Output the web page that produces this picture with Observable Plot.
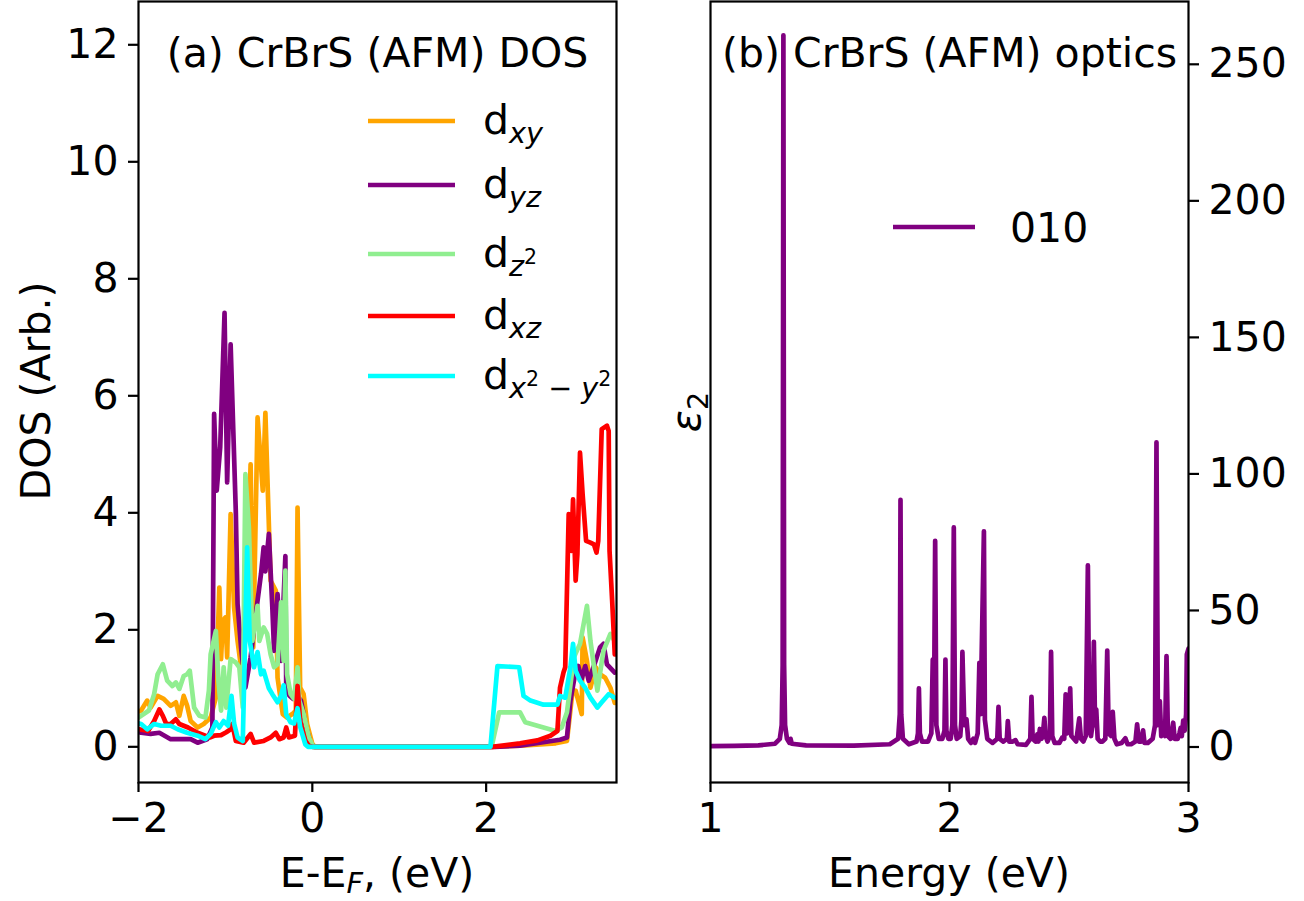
<!DOCTYPE html>
<html><head><meta charset="utf-8">
<script src="https://cdn.jsdelivr.net/npm/d3@7"></script>
<script src="https://cdn.jsdelivr.net/npm/@observablehq/plot@0.6"></script>
<style>
html,body{margin:0;padding:0;background:#fff;}
#wrap{position:relative;width:1304px;height:901px;font-family:"DejaVu Sans";overflow:hidden;}
#a,#b{position:absolute;top:0;}
#a{left:0px} #b{left:652px}
</style></head><body><div id="wrap"><div id="a"></div><div id="b"></div></div>
<script>
// ---------- Data: panel (a) DOS, [E - E_F (eV), DOS] ----------
const dxy = [[-2.0,0.6],[-1.97,0.62],[-1.9,0.79],[-1.86,0.67],[-1.78,0.87],[-1.71,0.82],[-1.63,0.70],[-1.57,0.76],[-1.53,0.53],[-1.48,0.87],[-1.44,0.70],[-1.40,0.44],[-1.32,0.33],[-1.25,0.39],[-1.17,0.50],[-1.11,0.84],[-1.07,2.72],[-1.05,1.5],[-1.03,2.15],[-1.00,2.21],[-0.98,1.53],[-0.94,3.98],[-0.90,2.38],[-0.86,1.81],[-0.80,1.13],[-0.77,1.98],[-0.71,4.83],[-0.68,1.70],[-0.63,5.63],[-0.57,4.38],[-0.54,5.71],[-0.48,2.84],[-0.42,2.67],[-0.40,1.18],[-0.34,0.56],[-0.29,0.50],[-0.23,0.56],[-0.19,0.62],[-0.17,4.09],[-0.14,1.01],[-0.10,0.90],[-0.06,0.39],[0.0,0.05],[0.03,0],[2.05,0],[2.4,0.02],[2.8,0.06],[2.93,0.1],[2.99,0.90],[3.03,0.96],[3.06,0.79],[3.10,0.56],[3.11,1.87],[3.16,1.47],[3.20,1.01],[3.26,1.36],[3.31,1.24],[3.37,1.18],[3.43,1.01],[3.48,0.75]];
const dyz = [[-2.0,0.26],[-1.97,0.24],[-1.86,0.22],[-1.76,0.24],[-1.63,0.13],[-1.40,0.13],[-1.32,0.07],[-1.21,0.13],[-1.15,0.33],[-1.13,5.69],[-1.10,4.38],[-1.06,5.12],[-1.01,7.42],[-0.98,4.52],[-0.94,6.88],[-0.88,4.0],[-0.86,2.44],[-0.82,1.70],[-0.77,1.01],[-0.71,1.53],[-0.65,2.27],[-0.59,2.96],[-0.56,3.41],[-0.54,3.0],[-0.50,3.64],[-0.46,2.38],[-0.44,1.64],[-0.40,2.61],[-0.36,1.47],[-0.31,3.26],[-0.30,0.96],[-0.26,0.87],[-0.22,0.82],[-0.17,0.87],[-0.13,0.79],[-0.08,0.39],[-0.02,0.05],[0.02,0],[2.1,0],[2.39,0.02],[2.85,0.12],[2.93,0.16],[2.97,0.79],[3.03,1.30],[3.06,1.38],[3.10,1.16],[3.14,1.38],[3.18,1.13],[3.26,1.47],[3.31,1.70],[3.35,1.76],[3.39,1.41],[3.48,1.27]];
const dz2 = [[-2.0,0.5],[-1.97,0.53],[-1.88,0.62],[-1.82,0.90],[-1.78,1.24],[-1.72,1.41],[-1.67,1.13],[-1.61,1.04],[-1.57,1.10],[-1.53,0.99],[-1.48,1.21],[-1.44,1.24],[-1.41,1.30],[-1.36,0.67],[-1.30,0.53],[-1.23,0.50],[-1.19,0.96],[-1.17,1.58],[-1.11,1.98],[-1.08,1.13],[-1.05,0.62],[-1.02,1.36],[-0.99,0.67],[-0.94,1.50],[-0.88,1.44],[-0.84,1.36],[-0.80,0.67],[-0.77,4.66],[-0.73,3.75],[-0.69,1.81],[-0.63,2.41],[-0.61,1.81],[-0.56,2.04],[-0.52,1.93],[-0.48,1.58],[-0.44,1.36],[-0.40,1.41],[-0.36,2.47],[-0.33,1.47],[-0.31,3.01],[-0.29,1.24],[-0.25,0.90],[-0.21,0.82],[-0.17,1.36],[-0.15,0.79],[-0.10,0.56],[-0.04,0.16],[0.01,0],[2.05,0],[2.07,0.05],[2.15,0.59],[2.39,0.59],[2.45,0.42],[2.80,0.27],[2.87,0.33],[2.93,0.59],[3.01,1.53],[3.08,1.76],[3.16,2.41],[3.20,1.81],[3.28,0.96],[3.35,1.64],[3.43,1.93],[3.48,1.81]];
const dxz = [[-2.0,0.3],[-1.99,0.30],[-1.89,0.27],[-1.82,0.44],[-1.76,0.64],[-1.72,0.53],[-1.68,0.39],[-1.63,0.39],[-1.57,0.47],[-1.53,0.39],[-1.43,0.33],[-1.32,0.24],[-1.18,0.16],[-1.13,0.19],[-1.05,0.2],[-0.99,0.25],[-0.94,0.30],[-0.92,0.39],[-0.88,0.10],[-0.79,0.07],[-0.71,0.22],[-0.67,0.07],[-0.56,0.10],[-0.48,0.16],[-0.42,0.24],[-0.38,0.13],[-0.33,0.16],[-0.30,0.33],[-0.27,0.16],[-0.20,0.19],[-0.17,1.04],[-0.14,0.44],[-0.11,0.27],[-0.08,0.10],[-0.04,0.02],[0.0,0],[2.07,0],[2.39,0.06],[2.59,0.11],[2.74,0.19],[2.82,0.27],[2.85,1.01],[2.89,1.27],[2.91,1.36],[2.95,3.98],[2.98,3.35],[3.00,4.23],[3.03,2.84],[3.05,3.29],[3.08,5.03],[3.11,4.32],[3.15,3.52],[3.20,3.49],[3.24,3.46],[3.27,3.32],[3.29,3.52],[3.33,5.43],[3.39,5.49],[3.41,5.40],[3.42,3.35],[3.45,2.50],[3.48,1.58]];
const dx2y2 = [[-2.0,0.4],[-1.97,0.39],[-1.90,0.30],[-1.82,0.39],[-1.74,0.36],[-1.63,0.36],[-1.55,0.30],[-1.44,0.24],[-1.32,0.19],[-1.23,0.13],[-1.17,0.22],[-1.11,0.42],[-1.07,0.33],[-1.02,0.44],[-0.97,0.36],[-0.93,0.87],[-0.90,0.40],[-0.86,0.16],[-0.80,0.10],[-0.78,1.4],[-0.75,3.41],[-0.72,1.81],[-0.67,1.36],[-0.63,1.62],[-0.59,1.24],[-0.56,1.30],[-0.50,1.0],[-0.46,0.9],[-0.40,0.76],[-0.36,0.87],[-0.33,1.05],[-0.30,0.55],[-0.25,0.42],[-0.21,0.40],[-0.17,0.66],[-0.14,0.34],[-0.08,0.04],[-0.05,0],[2.05,0],[2.13,1.38],[2.38,1.36],[2.43,0.87],[2.51,0.79],[2.66,0.72],[2.82,0.72],[2.85,0.87],[2.91,0.84],[2.97,1.36],[3.00,1.76],[3.03,1.30],[3.08,1.13],[3.14,1.01],[3.20,0.84],[3.28,0.67],[3.33,0.76],[3.41,0.90],[3.48,0.84]];

const dosSeries = [
  {key: "dxy", data: dxy, color: "orange"},
  {key: "dyz", data: dyz, color: "purple"},
  {key: "dz2", data: dz2, color: "lightgreen"},
  {key: "dxz", data: dxz, color: "red"},
  {key: "dx2y2", data: dx2y2, color: "cyan"}
];
const dosXTicks = [-2, 0, 2];
const dosYTicks = [0, 2, 4, 6, 8, 10, 12];

// ---------- Data: panel (b) optics, [Energy (eV), eps2] ----------
const eps2 = [[1.0,0.3],[1.1,0.4],[1.2,0.6],[1.27,1.2],[1.29,3],[1.298,8],[1.302,30],[1.305,260.6],[1.308,30],[1.312,8],[1.32,3],[1.33,1.5],[1.335,3],[1.34,1.2],[1.4,0.6],[1.6,0.5],[1.75,1],[1.785,3],[1.792,12],[1.795,90.5],[1.798,12],[1.805,3],[1.83,1],[1.862,2],[1.868,5],[1.872,21.5],[1.876,5],[1.885,2],[1.91,2],[1.924,5],[1.930,32],[1.935,10],[1.940,75.5],[1.945,8],[1.955,3],[1.97,3],[1.979,6],[1.983,32],[1.987,6],[1.995,3],[2.005,3],[2.012,8],[2.018,80.4],[2.023,8],[2.03,3],[2.045,4],[2.050,10],[2.054,34.8],[2.062,8],[2.071,10.2],[2.078,3],[2.09,1.5],[2.1,3],[2.107,1.5],[2.118,5],[2.125,30.8],[2.13,12],[2.144,79],[2.148,10],[2.158,3],[2.18,1.5],[2.2,3],[2.205,14.7],[2.21,3],[2.225,2],[2.24,3],[2.244,9.5],[2.25,2],[2.265,2],[2.276,2.5],[2.285,1],[2.32,0.8],[2.338,3],[2.343,18.4],[2.348,3],[2.36,2],[2.367,4.6],[2.372,2],[2.378,6.6],[2.385,3],[2.39,4],[2.397,10.7],[2.402,4],[2.41,2],[2.42,4],[2.425,34.8],[2.43,4],[2.44,1.5],[2.46,1.5],[2.471,3.4],[2.48,3],[2.486,19.3],[2.492,5],[2.50,9.5],[2.505,21.5],[2.51,4],[2.52,3],[2.53,2],[2.543,10.5],[2.55,3],[2.56,2],[2.57,4],[2.579,66.5],[2.585,6],[2.592,4],[2.598,8],[2.604,38.5],[2.609,8],[2.614,13.8],[2.62,3],[2.63,2],[2.64,2],[2.652,3],[2.66,35.3],[2.666,5],[2.676,4],[2.683,12.9],[2.69,3],[2.70,1],[2.72,1.5],[2.736,3.2],[2.745,1],[2.76,1],[2.778,2],[2.785,8.3],[2.792,2],[2.802,2],[2.81,6.1],[2.816,1.5],[2.83,1.5],[2.85,3],[2.86,8],[2.866,111.6],[2.872,8],[2.88,16.8],[2.886,4],[2.895,5],[2.902,4],[2.908,33.3],[2.914,4],[2.925,3],[2.936,8.9],[2.942,3],[2.955,3],[2.962,5],[2.967,7],[2.972,4],[2.978,9.7],[2.984,6],[2.99,12],[2.993,33.9],[3.0,36]];
const optXTicks = [1, 2, 3];
const optYTicks = [0, 50, 100, 150, 200, 250];

// ---------- Rendering ----------
const FS = 41;
const FONT = "DejaVu Sans";
const LW = 4.7;

function rich(sel, x, y, segs, anchor, rotate) {
  const t = sel.append("text")
    .attr("text-anchor", anchor || "start")
    .attr("font-family", FONT).attr("font-size", FS).attr("fill", "black")
    .attr("transform", `translate(${x},${y}) rotate(${rotate || 0})`);
  let shift = 0;
  for (const s of segs) {
    const ts = t.append("tspan").text(s.t);
    const target = s.dy || 0;
    if (target !== shift) { ts.attr("dy", target - shift); shift = target; }
    if (s.it) ts.attr("font-style", "italic");
    if (s.sz) ts.attr("font-size", s.sz);
  }
  return t;
}

const axisStyle = {tickSize: 10, tickPadding: 10, strokeWidth: 2.2, fontSize: FS, fontFamily: FONT, label: null, tickFormat: "d"};

const left = Plot.plot({
  width: 652, height: 901,
  marginLeft: 138, marginRight: 36, marginTop: 1, marginBottom: 119,
  style: {fontFamily: FONT, fontSize: FS + "px", background: "white", color: "black", overflow: "visible"},
  x: {domain: [-2, 3.5]},
  y: {domain: [-0.61, 12.74]},
  marks: [
    ...dosSeries.map(s => Plot.line(s.data, {x: d => d[0], y: d => d[1], stroke: s.color, strokeWidth: LW, clip: true})),
    Plot.frame({stroke: "black", strokeWidth: 2.2}),
    Plot.axisX({...axisStyle, ticks: dosXTicks}),
    Plot.axisY({...axisStyle, ticks: dosYTicks}),
    Plot.text(["(a) CrBrS (AFM) DOS"], {frameAnchor: "top", dy: 36, fontSize: FS, fontFamily: FONT, fill: "black"})
  ]
});
document.getElementById("a").appendChild(left);

const right = Plot.plot({
  width: 652, height: 901,
  marginLeft: 58, marginRight: 116, marginTop: 1, marginBottom: 119,
  style: {fontFamily: FONT, fontSize: FS + "px", background: "white", color: "black", overflow: "visible"},
  x: {domain: [1, 3]},
  y: {domain: [-13, 273]},
  marks: [
    Plot.line(eps2, {x: d => d[0], y: d => d[1], stroke: "purple", strokeWidth: LW, clip: true}),
    Plot.frame({stroke: "black", strokeWidth: 2.2}),
    Plot.axisX({...axisStyle, ticks: optXTicks}),
    Plot.axisY({...axisStyle, anchor: "right", ticks: optYTicks}),
    Plot.text(["(b) CrBrS (AFM) optics"], {frameAnchor: "top", dy: 36, fontSize: FS, fontFamily: FONT, fill: "black"})
  ]
});
document.getElementById("b").appendChild(right);

// axis titles and legends (text with sub/superscripts)
const L = d3.select(left), R = d3.select(right);
const SUB = FS * 0.7, SUP = FS * 0.5;
rich(L, 50, 391, [{t: "DOS (Arb.)"}], "middle", -90);
rich(L, 377, 887, [{t: "E-E"}, {t: "F", it: true, sz: SUB, dy: 6}, {t: ", (eV)", dy: 0}], "middle");
rich(R, 297, 887, [{t: "Energy (eV)"}], "middle");
rich(R, 48, 412, [{t: "ε", it: true}, {t: "2", sz: SUB, dy: 8}], "middle", -90);

const legendRows = [
  {color: "orange", y: 121, segs: [{t: "d"}, {t: "xy", it: true, sz: SUB, dy: 9}]},
  {color: "purple", y: 185, segs: [{t: "d"}, {t: "yz", it: true, sz: SUB, dy: 9}]},
  {color: "lightgreen", y: 254, segs: [{t: "d"}, {t: "z", it: true, sz: SUB, dy: 9}, {t: "2", sz: SUP, dy: -3}]},
  {color: "red", y: 316, segs: [{t: "d"}, {t: "xz", it: true, sz: SUB, dy: 9}]},
  {color: "cyan", y: 376, segs: [{t: "d"}, {t: "x", it: true, sz: SUB, dy: 9}, {t: "2", sz: SUP, dy: -3}, {t: " − ", sz: SUB, dy: 9}, {t: "y", it: true, sz: SUB, dy: 9}, {t: "2", sz: SUP, dy: -3}]}
];
for (const r of legendRows) {
  L.append("line").attr("x1", 368).attr("x2", 455).attr("y1", r.y).attr("y2", r.y)
    .attr("stroke", r.color).attr("stroke-width", LW);
  rich(L, 483, r.y + 13, r.segs, "start");
}
R.append("line").attr("x1", 241).attr("x2", 323).attr("y1", 227).attr("y2", 227)
  .attr("stroke", "purple").attr("stroke-width", LW);
rich(R, 358, 242, [{t: "010"}], "start");
</script>
</body></html>
